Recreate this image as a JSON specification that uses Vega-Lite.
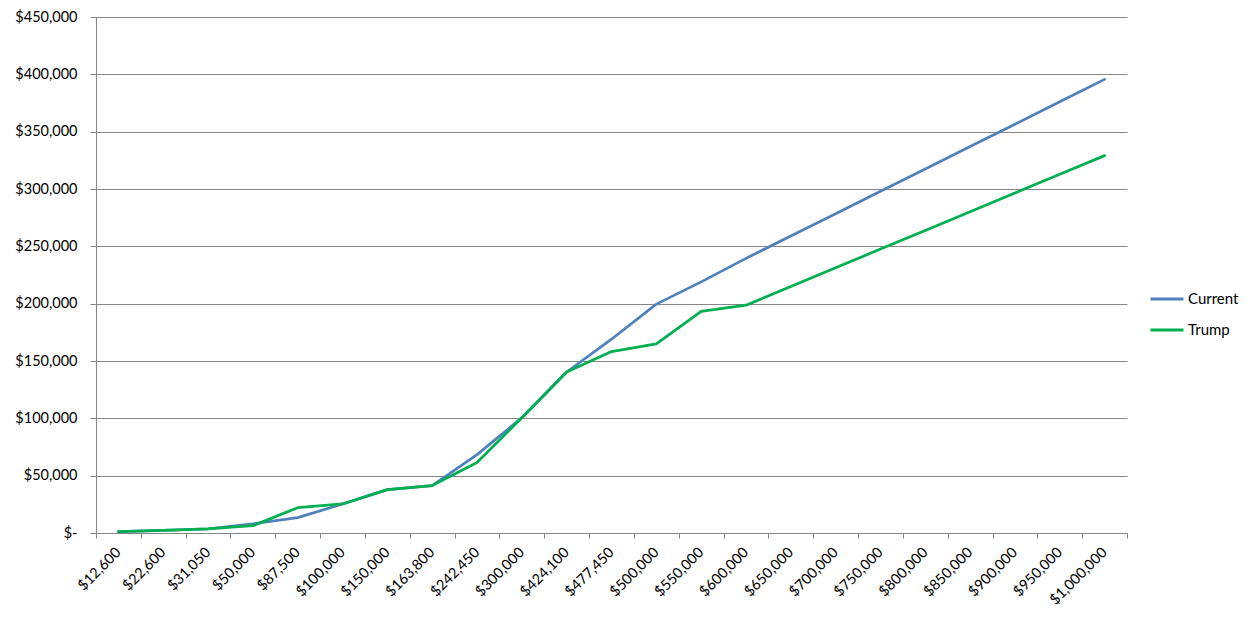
{
  "$schema": "https://vega.github.io/schema/vega-lite/v6.json",
  "width": 1031,
  "height": 516,
  "autosize": {"type": "none"},
  "padding": {"left": 96, "top": 17, "right": 130, "bottom": 96},
  "background": "white",
  "config": {
    "view": {"stroke": null},
    "font": "Lato",
    "axis": {"labelFont": "Lato", "labelColor": "#000000", "labelFontSize": 14.5, "domainColor": "#868686", "tickColor": "#868686", "gridColor": "#868686", "gridWidth": 1, "domainWidth": 1, "tickWidth": 1}
  },
  "data": {"values": [
    {"income": "$12,600", "plan": "Current", "tax": 1300},
    {"income": "$22,600", "plan": "Current", "tax": 2300},
    {"income": "$31,050", "plan": "Current", "tax": 3700},
    {"income": "$50,000", "plan": "Current", "tax": 8000},
    {"income": "$87,500", "plan": "Current", "tax": 13400},
    {"income": "$100,000", "plan": "Current", "tax": 25300},
    {"income": "$150,000", "plan": "Current", "tax": 37800},
    {"income": "$163,800", "plan": "Current", "tax": 41300},
    {"income": "$242,450", "plan": "Current", "tax": 68400},
    {"income": "$300,000", "plan": "Current", "tax": 100500},
    {"income": "$424,100", "plan": "Current", "tax": 140400},
    {"income": "$477,450", "plan": "Current", "tax": 169000},
    {"income": "$500,000", "plan": "Current", "tax": 199600},
    {"income": "$550,000", "plan": "Current", "tax": 219000},
    {"income": "$600,000", "plan": "Current", "tax": 239500},
    {"income": "$650,000", "plan": "Current", "tax": 259000},
    {"income": "$700,000", "plan": "Current", "tax": 278500},
    {"income": "$750,000", "plan": "Current", "tax": 298000},
    {"income": "$800,000", "plan": "Current", "tax": 317500},
    {"income": "$850,000", "plan": "Current", "tax": 337000},
    {"income": "$900,000", "plan": "Current", "tax": 356500},
    {"income": "$950,000", "plan": "Current", "tax": 376000},
    {"income": "$1,000,000", "plan": "Current", "tax": 395600},
    {"income": "$12,600", "plan": "Trump", "tax": 1300},
    {"income": "$22,600", "plan": "Trump", "tax": 2300},
    {"income": "$31,050", "plan": "Trump", "tax": 3700},
    {"income": "$50,000", "plan": "Trump", "tax": 6400},
    {"income": "$87,500", "plan": "Trump", "tax": 22100},
    {"income": "$100,000", "plan": "Trump", "tax": 25300},
    {"income": "$150,000", "plan": "Trump", "tax": 37800},
    {"income": "$163,800", "plan": "Trump", "tax": 41300},
    {"income": "$242,450", "plan": "Trump", "tax": 61400},
    {"income": "$300,000", "plan": "Trump", "tax": 100500},
    {"income": "$424,100", "plan": "Trump", "tax": 140400},
    {"income": "$477,450", "plan": "Trump", "tax": 158200},
    {"income": "$500,000", "plan": "Trump", "tax": 164900},
    {"income": "$550,000", "plan": "Trump", "tax": 193200},
    {"income": "$600,000", "plan": "Trump", "tax": 198700},
    {"income": "$650,000", "plan": "Trump", "tax": 215000},
    {"income": "$700,000", "plan": "Trump", "tax": 231300},
    {"income": "$750,000", "plan": "Trump", "tax": 247600},
    {"income": "$800,000", "plan": "Trump", "tax": 263900},
    {"income": "$850,000", "plan": "Trump", "tax": 280200},
    {"income": "$900,000", "plan": "Trump", "tax": 296500},
    {"income": "$950,000", "plan": "Trump", "tax": 312800},
    {"income": "$1,000,000", "plan": "Trump", "tax": 329100}
  ]},
  "mark": {"type": "line", "strokeWidth": 2.75, "strokeCap": "round", "strokeJoin": "round"},
  "encoding": {
    "x": {
      "field": "income", "type": "ordinal", "sort": null, "bandPosition": 0.5,
      "scale": {"type": "band", "paddingInner": 0, "paddingOuter": 0},
      "axis": {"title": null, "labelAngle": -45, "labelAlign": "right", "labelBaseline": "middle", "tickBand": "extent", "tickSize": 5, "labelPadding": 12, "grid": false}
    },
    "y": {
      "field": "tax", "type": "quantitative",
      "scale": {"domain": [0, 450000], "nice": false},
      "axis": {"title": null, "values": [0, 50000, 100000, 150000, 200000, 250000, 300000, 350000, 400000, 450000], "labelExpr": "datum.value == 0 ? '$-\u00a0\u00a0' : '$' + format(datum.value, ',')", "tickSize": 6, "labelPadding": 13, "grid": true}
    },
    "color": {
      "field": "plan", "type": "nominal",
      "scale": {"domain": ["Current", "Trump"], "range": ["#4F81BD", "#00B050"]},
      "legend": {"title": null, "orient": "none", "legendX": 1053, "legendY": 264, "symbolType": "stroke", "symbolSize": 1089, "symbolStrokeWidth": 3, "labelFont": "Lato", "labelFontSize": 15, "labelColor": "#000000", "rowPadding": 5, "labelOffset": 3}
    }
  }
}
